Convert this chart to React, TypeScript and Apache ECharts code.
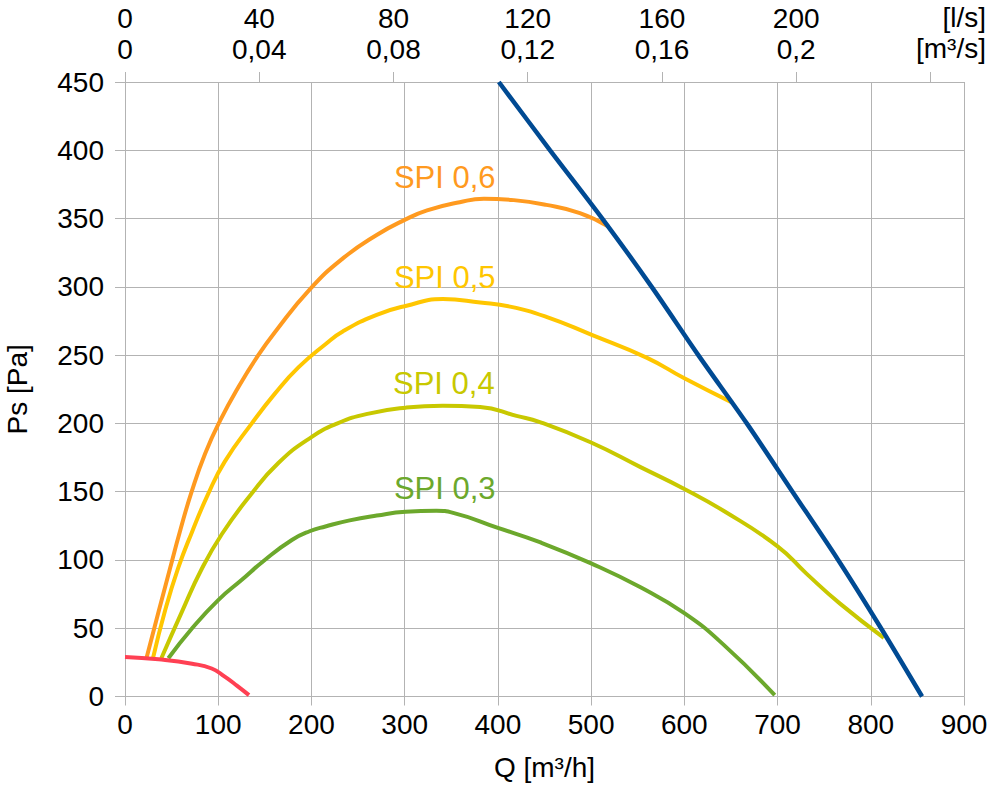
import React, { useEffect, useRef } from "react";
import * as echarts from "echarts";

// ---- data (Q in m³/h, Ps in Pa) ----
const spi06: number[][] = [[23,28],[36,62],[48,93],[59,121],[71.5,150],[86,178],[102,202],[122,227],[143,250],[161,267],[198,298],[234,321],[270,338],[300,349],[324,356],[359,362],[385,364.5],[417,363.5],[452,360],[488,354],[519,344]];
const spi05: number[][] = [[30,28],[43,63],[57,94],[71.6,120],[89,148],[107,172],[136,200],[161,222],[186,241],[215,258],[234,267.5],[270,279.5],[301,286],[341,291],[381,288.5],[413,285.5],[452,278],[500,265],[560,248],[600,233],[652,215]];
const spi04: number[][] = [[39,28],[61,62],[82,93],[104,119],[134,147],[164.5,171],[200,190],[228,200],[260,207],[301,211.5],[341,213],[381,212],[420,205.5],[445,201],[500,186],[553,168],[600,152],[642,136],[700,110],[731,90],[767,68],[814,43]];
const spi03: number[][] = [[46.5,28],[72,50],[100,70.6],[125,85.3],[150,100],[179,114.6],[198,121],[215,124.5],[241,129],[270,132.5],[301,135.3],[334,136],[352,134.5],[400,123.5],[445,113],[500,97.5],[553,80],[600,61],[642,38],[697,1]];
const minCurve: number[][] = [[0,29],[36,27.2],[72,24],[93,20.5],[107,14.5],[120,8],[133,1]];
const maxCurve: number[][] = [[401,450],[456,400],[512,350],[565,300],[615,250],[667,200],[716,150],[765,100],[811,50],[855,0]];

const spiNames = ["SPI 0,6", "SPI 0,5", "SPI 0,4", "SPI 0,3"];
const spiColors = ["#ff9a1f", "#ffc600", "#c8c800", "#6ca82c"];
const spiLabelPos: number[][] = [[343,380],[343,307],[342,229],[343,152]];

const topLs = [0, 40, 80, 120, 160, 200];
const topM3s = ["0", "0,04", "0,08", "0,12", "0,16", "0,2"];
const topTickLs = [0, 40, 80, 120, 160, 200, 240];

const FONT = '"Liberation Sans", Arial, sans-serif';
const GRID = "#b3b3b3";

export default function App() {
  const ref = useRef<HTMLDivElement>(null);
  useEffect(() => {
    document.body.style.margin = "0";
    if (!ref.current) return;
    const chart = echarts.init(ref.current, null, { renderer: "svg" });
    const lsToQ = (ls: number) => Math.round(ls * 3.6);
    const spiSeries = [spi06, spi05, spi04, spi03].map((d, i) => ({
      type: "line",
      name: spiNames[i],
      data: d,
      smooth: 0.5,
      showSymbol: false,
      symbol: "none",
      lineStyle: { color: spiColors[i], width: 4 },
      itemStyle: { color: spiColors[i] },
      z: 2,
      markPoint: {
        symbol: "rect",
        symbolSize: 1,
        itemStyle: { color: "rgba(0,0,0,0)" },
        label: {
          show: true,
          position: "inside",
          formatter: spiNames[i],
          fontSize: 31,
          fontFamily: FONT,
          color: spiColors[i],
        },
        data: [{ coord: spiLabelPos[i], value: spiNames[i] }],
      },
    }));
    chart.setOption({
      animation: false,
      backgroundColor: "#ffffff",
      grid: { left: 125, right: 31, top: 82, bottom: 91.5, containLabel: false, outerBoundsMode: "none" },
      xAxis: [
        {
          type: "value",
          position: "bottom",
          min: 0,
          max: 900,
          interval: 100,
          axisLine: { show: true, lineStyle: { color: GRID, width: 1 } },
          axisTick: { show: true, length: 9, lineStyle: { color: GRID } },
          axisLabel: { fontSize: 28, color: "#000", fontFamily: FONT, margin: 14 },
          splitLine: { show: true, lineStyle: { color: GRID, width: 1 } },
          name: "Q [m³/h]",
          nameLocation: "middle",
          nameGap: 57,
          nameTextStyle: { fontSize: 28, color: "#000", fontFamily: FONT },
        },
        {
          type: "value",
          position: "top",
          min: 0,
          max: 900,
          axisLine: { show: true, lineStyle: { color: GRID, width: 1 } },
          axisTick: { show: true, length: 10, lineStyle: { color: GRID }, customValues: topTickLs.map(lsToQ) },
          axisLabel: {
            customValues: topLs.map(lsToQ),
            formatter: (v: number) => {
              const idx = topLs.findIndex((ls) => lsToQ(ls) === Math.round(v));
              return idx >= 0 ? `${topLs[idx]}\n${topM3s[idx]}` : "";
            },
            fontSize: 28,
            lineHeight: 31,
            color: "#000",
            fontFamily: FONT,
            margin: 17,
          },
          splitLine: { show: false },
        },
      ],
      yAxis: {
        type: "value",
        min: 0,
        max: 450,
        interval: 50,
        axisLine: { show: true, lineStyle: { color: GRID, width: 1 } },
        axisTick: { show: true, length: 10, lineStyle: { color: GRID } },
        axisLabel: { fontSize: 28, color: "#000", fontFamily: FONT, margin: 21 },
        splitLine: { show: true, lineStyle: { color: GRID, width: 1 } },
        name: "Ps [Pa]",
        nameLocation: "middle",
        nameGap: 94,
        nameTextStyle: { fontSize: 28, color: "#000", fontFamily: FONT },
      },
      graphic: [
        {
          type: "text",
          right: 9,
          top: 2,
          style: {
            text: "[l/s]\n[m³/s]",
            fontSize: 28,
            lineHeight: 31,
            fontFamily: FONT,
            fill: "#000",
            textAlign: "right",
          },
        },
      ],
      series: [
        ...spiSeries,
        {
          type: "line",
          name: "min",
          data: minCurve,
          smooth: 0.5,
          symbol: "none",
          lineStyle: { color: "#ff4053", width: 4 },
          z: 3,
        },
        {
          type: "line",
          name: "max",
          data: maxCurve,
          smooth: 0.3,
          symbol: "none",
          lineStyle: { color: "#004a93", width: 4.5 },
          z: 4,
        },
      ],
    });
    return () => chart.dispose();
  }, []);
  return <div ref={ref} style={{ width: 995, height: 788 }} />;
}
